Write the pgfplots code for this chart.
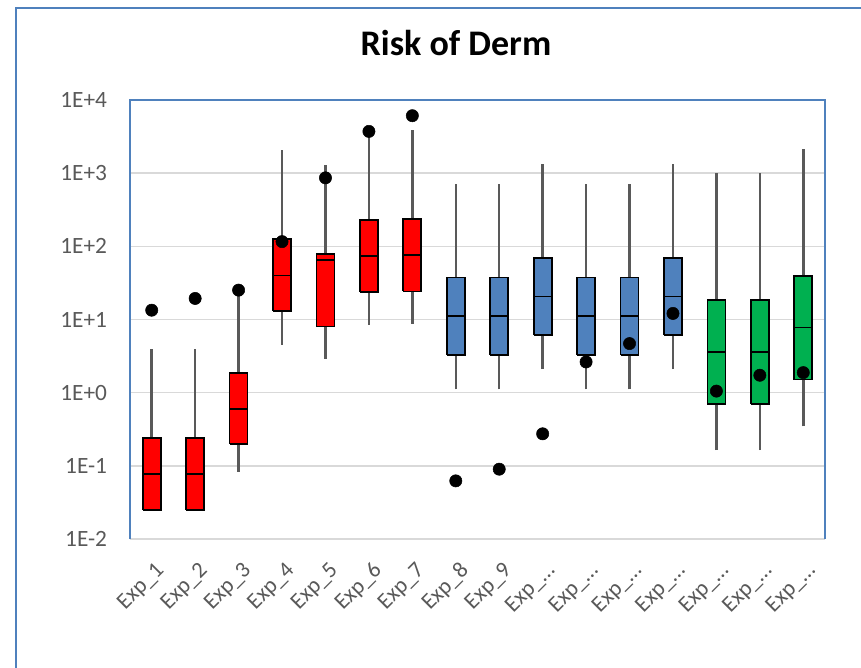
\documentclass[border=0pt]{standalone}
\usepackage{fontspec}
\setmainfont{Carlito}
\usepackage{pgfplots}
\pgfplotsset{compat=1.18}
\definecolor{boxred}{HTML}{FF0000}
\definecolor{boxblue}{HTML}{4F81BD}
\definecolor{boxgreen}{HTML}{00B050}
\definecolor{frameblue}{HTML}{4F81BD}
\definecolor{gridgrey}{HTML}{D9D9D9}
\definecolor{textgrey}{HTML}{595959}
\definecolor{whisk}{HTML}{595959}
\pgfplotsset{
  bxr/.style={fill=boxred, draw=black, line width=1.3pt, line join=miter},
  bxb/.style={fill=boxblue, draw=black, line width=1.3pt, line join=miter},
  bxg/.style={fill=boxgreen, draw=black, line width=1.3pt, line join=miter},
  wsk/.style={draw=whisk, line width=1.9pt},
  med/.style={draw=black, line width=1.3pt},
}
\begin{document}
\begin{tikzpicture}
\useasboundingbox (-97.5pt,-96.75pt) rectangle (548.25pt,404.25pt);
\draw[frameblue, line width=1pt] (-85.5pt,-96.75pt) -- (-85.5pt,398.25pt) -- (548.25pt,398.25pt);
\node[font=\fontsize{27}{30}\selectfont\bfseries, text=black] at (244.5pt,372pt) {Risk of Derm};
\begin{axis}[
  at={(0pt,0pt)}, anchor=south west,
  scale only axis, width=521.25pt, height=329.25pt,
  ymode=log, ymin=1e-2, ymax=1e4,
  xmin=-0.5, xmax=15.5,
  ytick={1e-2,1e-1,1,10,100,1000,10000},
  yticklabels={1E-2,1E-1,1E+0,1E+1,1E+2,1E+3,1E+4},
  xtick={0,1,2,3,4,5,6,7,8,9,10,11,12,13,14,15},
  xticklabels={Exp\_1,Exp\_2,Exp\_3,Exp\_4,Exp\_5,Exp\_6,Exp\_7,Exp\_8,Exp\_9,Exp\_…,Exp\_…,Exp\_…,Exp\_…,Exp\_…,Exp\_…,Exp\_…},
  ymajorgrids,
  grid style={gridgrey, line width=1pt},
  major tick length=0pt, minor tick length=0pt,
  axis line style={draw=none},
  yticklabel style={font=\fontsize{17.5}{20}\selectfont, text=textgrey, anchor=east, inner sep=0pt, xshift=-17pt},
  xticklabel style={font=\fontsize{17}{20}\selectfont, text=textgrey, xshift=2pt, yshift=-16pt, rotate=45, anchor=north east, inner sep=0pt},
  clip=false,
]
\draw[gridgrey, line width=1.5pt] (rel axis cs:0,0) -- (rel axis cs:1,0);
\draw[frameblue, line width=1.3pt] (rel axis cs:0,0) -- (rel axis cs:0,1) -- (rel axis cs:1,1) -- (rel axis cs:1,0);
% whiskers (lower whisker to upper whisker)
\addplot[wsk] coordinates {(0,0.025) (0,3.96)};
\addplot[wsk] coordinates {(1,0.025) (1,3.96)};
\addplot[wsk] coordinates {(2,0.0836) (2,25.2)};
\addplot[wsk] coordinates {(3,4.55) (3,2066)};
\addplot[wsk] coordinates {(4,2.89) (4,1288)};
\addplot[wsk] coordinates {(5,8.45) (5,3724)};
\addplot[wsk] coordinates {(6,8.73) (6,3882)};
\addplot[wsk] coordinates {(7,1.11) (7,721)};
\addplot[wsk] coordinates {(8,1.11) (8,721)};
\addplot[wsk] coordinates {(9,2.09) (9,1315)};
\addplot[wsk] coordinates {(10,1.11) (10,721)};
\addplot[wsk] coordinates {(11,1.11) (11,721)};
\addplot[wsk] coordinates {(12,2.09) (12,1315)};
\addplot[wsk] coordinates {(13,0.164) (13,990)};
\addplot[wsk] coordinates {(14,0.164) (14,990)};
\addplot[wsk] coordinates {(15,0.346) (15,2132)};
% boxes (lower quartile to upper quartile)
\addplot[bxr] coordinates {(-0.207,0.025) (0.207,0.025) (0.207,0.239) (-0.207,0.239) (-0.207,0.025)};
\addplot[bxr] coordinates {(0.793,0.025) (1.207,0.025) (1.207,0.239) (0.793,0.239) (0.793,0.025)};
\addplot[bxr] coordinates {(1.793,0.2) (2.207,0.2) (2.207,1.86) (1.793,1.86) (1.793,0.2)};
\addplot[bxr] coordinates {(2.793,13) (3.207,13) (3.207,125) (2.793,125) (2.793,13)};
\addplot[bxr] coordinates {(3.793,8.0) (4.207,8.0) (4.207,79.4) (3.793,79.4) (3.793,8.0)};
\addplot[bxr] coordinates {(4.793,23.9) (5.207,23.9) (5.207,227) (4.793,227) (4.793,23.9)};
\addplot[bxr] coordinates {(5.793,24.2) (6.207,24.2) (6.207,234) (5.793,234) (5.793,24.2)};
\addplot[bxb] coordinates {(6.793,3.28) (7.207,3.28) (7.207,37.6) (6.793,37.6) (6.793,3.28)};
\addplot[bxb] coordinates {(7.793,3.28) (8.207,3.28) (8.207,37.6) (7.793,37.6) (7.793,3.28)};
\addplot[bxb] coordinates {(8.793,6.1) (9.207,6.1) (9.207,68.5) (8.793,68.5) (8.793,6.1)};
\addplot[bxb] coordinates {(9.793,3.28) (10.207,3.28) (10.207,37.6) (9.793,37.6) (9.793,3.28)};
\addplot[bxb] coordinates {(10.793,3.28) (11.207,3.28) (11.207,37.6) (10.793,37.6) (10.793,3.28)};
\addplot[bxb] coordinates {(11.793,6.1) (12.207,6.1) (12.207,68.5) (11.793,68.5) (11.793,6.1)};
\addplot[bxg] coordinates {(12.793,0.706) (13.207,0.706) (13.207,18.4) (12.793,18.4) (12.793,0.706)};
\addplot[bxg] coordinates {(13.793,0.706) (14.207,0.706) (14.207,18.4) (13.793,18.4) (13.793,0.706)};
\addplot[bxg] coordinates {(14.793,1.51) (15.207,1.51) (15.207,39.7) (14.793,39.7) (14.793,1.51)};
% medians
\addplot[med] coordinates {(-0.207,0.078) (0.207,0.078)};
\addplot[med] coordinates {(0.793,0.078) (1.207,0.078)};
\addplot[med] coordinates {(1.793,0.597) (2.207,0.597)};
\addplot[med] coordinates {(2.793,40) (3.207,40)};
\addplot[med] coordinates {(3.793,65.7) (4.207,65.7)};
\addplot[med] coordinates {(4.793,73.8) (5.207,73.8)};
\addplot[med] coordinates {(5.793,76.9) (6.207,76.9)};
\addplot[med] coordinates {(6.793,11.1) (7.207,11.1)};
\addplot[med] coordinates {(7.793,11.1) (8.207,11.1)};
\addplot[med] coordinates {(8.793,20.7) (9.207,20.7)};
\addplot[med] coordinates {(9.793,11.1) (10.207,11.1)};
\addplot[med] coordinates {(10.793,11.1) (11.207,11.1)};
\addplot[med] coordinates {(11.793,20.7) (12.207,20.7)};
\addplot[med] coordinates {(12.793,3.61) (13.207,3.61)};
\addplot[med] coordinates {(13.793,3.61) (14.207,3.61)};
\addplot[med] coordinates {(14.793,7.77) (15.207,7.77)};
% points
\addplot[only marks, mark=*, mark size=4.6pt, black] coordinates {
(0,13.4) (1,19.4) (2,25.2) (3,116) (4,863) (5,3724) (6,6100) (7,0.0623)
(8,0.09) (9,0.274) (10,2.63) (11,4.69) (12,12.1) (13,1.05) (14,1.73) (15,1.88)};
\end{axis}
\end{tikzpicture}
\end{document}
